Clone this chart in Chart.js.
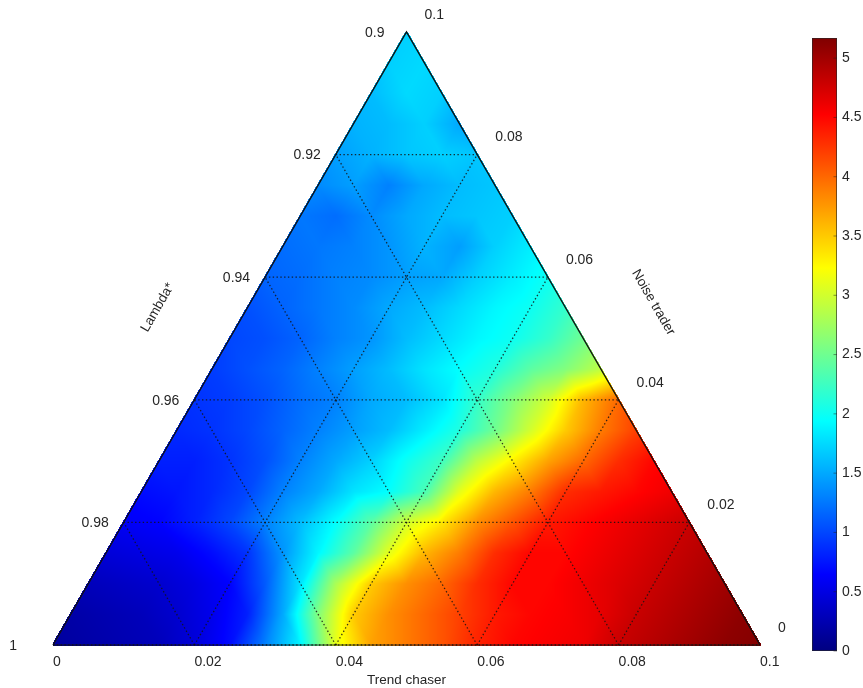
<!DOCTYPE html>
<html><head><meta charset="utf-8">
<script src="https://cdn.jsdelivr.net/npm/chart.js@4.4.1/dist/chart.umd.min.js"></script>
<style>
html,body{margin:0;padding:0;background:#fff;}
#wrap{position:relative;width:863px;height:688px;overflow:hidden;}
#main{position:absolute;left:0;top:0;}
#cb{position:absolute;left:790px;top:0;}
</style></head>
<body><div id="wrap"><canvas id="main" width="863" height="688"></canvas><canvas id="cb" width="73" height="688"></canvas></div>
<script>
// ---- data: value at (trend chaser t, noise trader n), lambda* = 1 - t - n ----
const trendLevels = [0,0.005,0.01,0.015,0.02,0.025,0.03,0.035,0.04,0.045,0.05,0.055,0.06,0.065,0.07,0.075,0.08,0.085,0.09,0.095,0.1];
const noiseLevels = [0,0.005,0.01,0.015,0.02,0.025,0.03,0.035,0.04,0.045,0.05,0.055,0.06,0.065,0.07,0.075,0.08,0.085,0.09,0.095,0.1];
// one row per noise-trader level, entries by trend-chaser level
const row00 = [0.15,0.2,0.25,0.3,0.45,0.7,1.3,1.9,3.1,3.7,3.9,4.1,4.35,4.5,4.55,4.6,4.8,4.9,5.0,5.1,5.15];
const row01 = [0.2,0.25,0.3,0.4,0.55,0.8,1.5,2.6,3.5,3.8,4.0,4.2,4.4,4.5,4.55,4.65,4.8,4.9,5.0,5.1];
const row02 = [0.3,0.35,0.4,0.5,0.65,1.1,1.8,2.8,3.5,3.8,4.0,4.3,4.5,4.5,4.6,4.7,4.8,4.9,5.0];
const row03 = [0.45,0.5,0.55,0.7,0.9,1.4,1.9,2.4,3.1,3.6,3.9,4.3,4.5,4.5,4.6,4.7,4.8,4.9];
const row04 = [0.6,0.65,0.8,1.0,1.3,1.6,1.95,2.4,3.0,3.35,3.8,4.1,4.4,4.5,4.6,4.7,4.8];
const row05 = [0.7,0.75,0.85,1.0,1.3,1.5,1.8,1.95,2.3,3.1,3.6,3.9,4.3,4.4,4.5,4.6];
const row06 = [0.8,0.8,0.9,1.05,1.3,1.5,1.7,2.0,2.25,2.9,3.3,3.7,4.0,4.3,4.5];
const row07 = [0.85,0.9,1.0,1.15,1.3,1.45,1.6,1.85,2.1,2.5,3.0,3.5,3.9,4.2];
const row08 = [0.9,0.95,1.05,1.2,1.3,1.5,1.6,1.8,2.2,2.6,3.0,3.6,4.0];
const row09 = [0.95,1.05,1.15,1.3,1.45,1.6,1.8,1.95,2.1,2.4,2.6,2.9];
const row10 = [1.0,1.05,1.15,1.3,1.4,1.6,1.75,1.9,2.0,2.2,2.5];
const row11 = [1.05,1.15,1.25,1.35,1.5,1.6,1.75,1.9,2.0,2.2];
const row12 = [1.15,1.2,1.3,1.35,1.45,1.5,1.7,1.85,2.0];
const row13 = [1.2,1.25,1.3,1.4,1.55,1.45,1.7,1.85];
const row14 = [1.25,1.2,1.35,1.5,1.6,1.65,1.7];
const row15 = [1.35,1.45,1.3,1.5,1.6,1.65];
const row16 = [1.45,1.55,1.65,1.7,1.65];
const row17 = [1.55,1.6,1.7,1.5];
const row18 = [1.6,1.75,1.7];
const row19 = [1.7,1.75];
const row20 = [1.7];
const zRows = [row00,row01,row02,row03,row04,row05,row06,row07,row08,row09,row10,row11,row12,row13,row14,row15,row16,row17,row18,row19,row20];

const bottomTicks = ['0','0.02','0.04','0.06','0.08','0.1'];       // Trend chaser
const bottomTickValues = [0,0.02,0.04,0.06,0.08,0.1];
const leftTicks = ['1','0.98','0.96','0.94','0.92','0.9'];         // Lambda*
const rightTicks = ['0','0.02','0.04','0.06','0.08','0.1'];        // Noise trader
const sideTickValues = [0,0.02,0.04,0.06,0.08,0.1];
const gridValues = [0.02,0.04,0.06,0.08];
const colorRange = [0, 5.17];
const colorbarTicks = [0,0.5,1,1.5,2,2.5,3,3.5,4,4.5,5];
const axisTitles = {bottom:'Trend chaser', left:'Lambda*', right:'Noise trader'};

const SQ = Math.sqrt(3)/2;
const FONT = '"Liberation Sans", Arial, Helvetica, sans-serif';
const TEXT = '#262626';

function clamp01(v){return Math.max(0,Math.min(1,v));}
function jetArr(v){
  const x = clamp01((v-colorRange[0])/(colorRange[1]-colorRange[0]));
  return [clamp01(1.5-Math.abs(4*x-3))*255, clamp01(1.5-Math.abs(4*x-2))*255, clamp01(1.5-Math.abs(4*x-1))*255];
}
function jetRGB(v){const c=jetArr(v); return 'rgb('+Math.round(c[0])+','+Math.round(c[1])+','+Math.round(c[2])+')';}

// points in cartesian ternary coordinates (x = t + n/2, y = n*sqrt3/2)
const points = [];
zRows.forEach((row,k)=>row.forEach((v,i)=>points.push({x:trendLevels[i]+noiseLevels[k]/2, y:noiseLevels[k]*SQ, v:v})));

const STEP = trendLevels[1]-trendLevels[0];
const NLEV = trendLevels.length-1;
function zAt(i,k){
  k=Math.max(0,Math.min(NLEV,k)); const row=zRows[k];
  i=Math.max(0,Math.min(row.length-1,i)); return row[i];
}
// value inside the data triangle cell that contains (t,n), shaded across its three data nodes
function shadeValue(t,n){
  const u=t/STEP, w=n/STEP; let i=Math.floor(u), k=Math.floor(w);
  const fu=u-i, fw=w-k;
  if(fu+fw<=1) return zAt(i,k)*(1-fu-fw)+zAt(i+1,k)*fu+zAt(i,k+1)*fw;
  return zAt(i+1,k+1)*(fu+fw-1)+zAt(i+1,k)*(1-fw)+zAt(i,k+1)*(1-fu);
}

const ternaryPlugin = {
  id:'ternary',
  beforeDatasetsDraw(chart){
    const ctx = chart.ctx, xs = chart.scales.x, ys = chart.scales.y, ca = chart.chartArea;
    const P = (t,n)=>[xs.getPixelForValue(t+n/2), ys.getPixelForValue(n*SQ)];
    // field cells
    const x0=Math.floor(ca.left), y0=Math.floor(ca.top), W=Math.ceil(ca.right)-x0+1, H=Math.ceil(ca.bottom)-y0+1;
    const off=document.createElement('canvas'); off.width=W; off.height=H;
    const octx=off.getContext('2d'); const img=octx.createImageData(W,H); const d=img.data;
    const tMax=trendLevels[NLEV];
    for(let py=0;py<H;py++){
      const Y=ys.getValueForPixel(y0+py+0.5); const n=Y/SQ;
      if(n<-1e-4||n>tMax+1e-4) continue;
      for(let px=0;px<W;px++){
        const X=xs.getValueForPixel(x0+px+0.5); const t=X-n/2;
        if(t<-2e-4||t+n>tMax+2e-4) continue;
        const c=jetArr(shadeValue(Math.max(0,t),Math.max(0,n)));
        const o=(py*W+px)*4; d[o]=c[0]; d[o+1]=c[1]; d[o+2]=c[2]; d[o+3]=255;
      }
    }
    octx.putImageData(img,0,0);
    ctx.save();
    ctx.drawImage(off,x0,y0);
    // dotted grid lines
    ctx.setLineDash([1.4,2.4]); ctx.strokeStyle='rgba(20,20,20,0.85)'; ctx.lineWidth=1.3;
    const seg=(a,b)=>{ctx.beginPath();ctx.moveTo(a[0],a[1]);ctx.lineTo(b[0],b[1]);ctx.stroke();};
    gridValues.forEach(g=>{
      seg(P(0,g),P(tMax-g,g));   // constant noise trader
      seg(P(g,0),P(g,tMax-g));   // constant trend chaser
      seg(P(g,0),P(0,g));        // constant lambda*
    });
    seg(P(0,0),P(tMax,0));
    ctx.setLineDash([]);
    // solid edges
    ctx.strokeStyle='#111'; ctx.lineWidth=1.4;
    ctx.beginPath(); const a=P(0,0), b=P(0,tMax), c=P(tMax,0);
    ctx.moveTo(a[0],a[1]); ctx.lineTo(b[0],b[1]); ctx.lineTo(c[0],c[1]); ctx.stroke();
    ctx.lineWidth=0.8; ctx.beginPath(); ctx.moveTo(a[0],a[1]); ctx.lineTo(c[0],c[1]); ctx.stroke();
    // tick labels
    ctx.fillStyle=TEXT; ctx.font='14px '+FONT; ctx.textBaseline='middle';
    ctx.textAlign='left';
    bottomTickValues.forEach((t,i)=>{const p=P(t,0); ctx.fillText(bottomTicks[i], p[0], p[1]+17);});
    ctx.textAlign='right';
    sideTickValues.forEach((n,i)=>{
      const p=P(0,n); const gap = i===0?36:(i===sideTickValues.length-1?22:15);
      ctx.fillText(leftTicks[i], p[0]-gap, p[1]+1);
    });
    ctx.textAlign='left';
    sideTickValues.forEach((n,i)=>{const p=P(tMax-n,n); ctx.fillText(rightTicks[i], p[0]+18, p[1]-17);});
    // axis titles
    ctx.font='13.5px '+FONT; ctx.textAlign='center';
    const bm=P(tMax/2,0); ctx.fillText(axisTitles.bottom, bm[0], bm[1]+35);
    const lm=P(0,tMax/2); ctx.save(); ctx.translate(lm[0]-72, lm[1]-31); ctx.rotate(-Math.PI/3); ctx.fillText(axisTitles.left,0,0); ctx.restore();
    const rm=P(tMax/2,tMax/2); ctx.save(); ctx.translate(rm[0]+70, rm[1]-36); ctx.rotate(Math.PI/3); ctx.fillText(axisTitles.right,0,0); ctx.restore();
    ctx.restore();
  }
};

new Chart(document.getElementById('main').getContext('2d'), {
  type:'scatter',
  data:{datasets:[{data:points, pointRadius:0, pointHoverRadius:0, showLine:false}]},
  options:{
    responsive:false, animation:false, events:[], devicePixelRatio:1,
    layout:{padding:{left:53,right:103,top:32,bottom:43}},
    scales:{
      x:{type:'linear',min:0,max:0.1,display:false},
      y:{type:'linear',min:0,max:0.1*SQ,display:false}
    },
    plugins:{legend:{display:false},tooltip:{enabled:false}}
  },
  plugins:[ternaryPlugin]
});

const colorbarPlugin = {
  id:'colorbar',
  beforeDatasetsDraw(chart){
    const ctx=chart.ctx, ca=chart.chartArea, ys=chart.scales.y;
    const y0=ys.getPixelForValue(colorRange[0]), y1=ys.getPixelForValue(colorRange[1]);
    const grad=ctx.createLinearGradient(0,y0,0,y1);
    for(let s=0;s<=40;s++){const f=s/40; grad.addColorStop(f, jetRGB(colorRange[0]+f*(colorRange[1]-colorRange[0])));}
    ctx.save();
    ctx.fillStyle=grad; ctx.fillRect(ca.left,y1,ca.right-ca.left,y0-y1);
    ctx.strokeStyle='rgba(40,40,40,0.8)'; ctx.lineWidth=0.8;
    ctx.strokeRect(ca.left+0.4,y1+0.4,ca.right-ca.left-0.8,y0-y1-0.8);
    ctx.strokeStyle='rgba(30,30,30,0.6)'; ctx.lineWidth=0.8;
    colorbarTicks.forEach(v=>{const y=ys.getPixelForValue(v); ctx.beginPath(); ctx.moveTo(ca.right-3.5,y); ctx.lineTo(ca.right,y); ctx.stroke();});
    ctx.restore();
  }
};

new Chart(document.getElementById('cb').getContext('2d'), {
  type:'scatter',
  data:{datasets:[{data:[], pointRadius:0}]},
  options:{
    responsive:false, animation:false, events:[], devicePixelRatio:1,
    layout:{padding:{left:22,right:0,top:38,bottom:37}},
    scales:{
      x:{type:'linear',min:0,max:1,display:false},
      y:{type:'linear',position:'right',min:colorRange[0],max:colorRange[1],
        afterBuildTicks(scale){scale.ticks = colorbarTicks.map(v=>({value:v}));},
        afterFit(scale){scale.width=26;},
        ticks:{includeBounds:false,stepSize:0.5,padding:5,color:TEXT,font:{family:FONT,size:14},
          callback:(v)=>String(v)},
        grid:{display:true,drawOnChartArea:false,drawTicks:false,tickLength:0},
        border:{display:false}
      }
    },
    plugins:{legend:{display:false},tooltip:{enabled:false}}
  },
  plugins:[colorbarPlugin]
});
</script>
</body></html>
